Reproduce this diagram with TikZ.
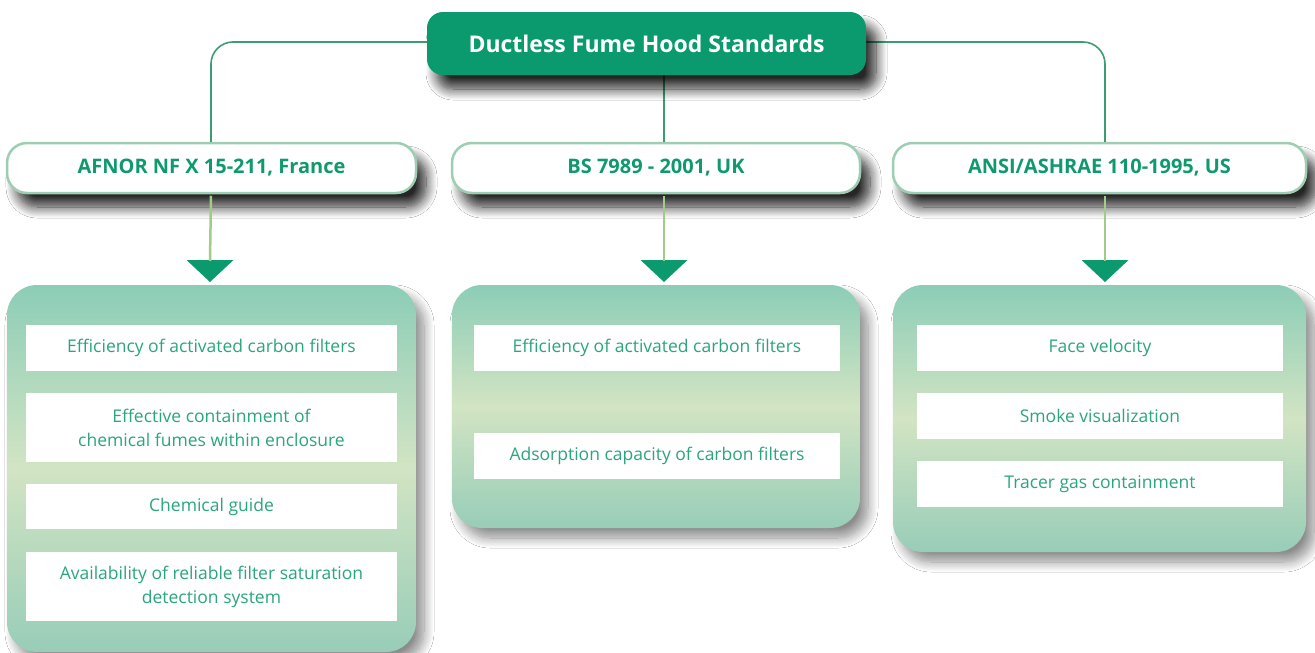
\documentclass[tikz,border=0pt]{standalone}
\usepackage{fontspec}
\setmainfont{Open Sans}
\usetikzlibrary{shadows.blur}
\definecolor{dgreen}{HTML}{0B9A6D}
\definecolor{txtgreen}{HTML}{0E9A6C}
\definecolor{itemgreen}{HTML}{2AA67C}
\definecolor{bordergreen}{HTML}{9DCDB3}
\definecolor{linegreen}{HTML}{3A9E72}
\definecolor{lightline}{HTML}{A2CB87}
\definecolor{ptop}{HTML}{8CCDB7}
\definecolor{pmid}{HTML}{D2E4C3}
\definecolor{pbot}{HTML}{98CDB8}
\tikzset{
  titlebox/.style={fill=dgreen, rounded corners=16pt, inner sep=0pt, text=white,
    font=\fontsize{23}{26}\selectfont\bfseries,
    blur shadow={shadow xshift=10pt, shadow yshift=-14pt, shadow blur radius=11pt, shadow blur steps=12, shadow opacity=85}},
  stdbox/.style={fill=white, draw=bordergreen, line width=2.5pt, rounded corners=20pt, inner sep=0pt,
    text=txtgreen, font=\fontsize{20}{24}\selectfont\bfseries,
    blur shadow={shadow xshift=10pt, shadow yshift=-14pt, shadow blur radius=11pt, shadow blur steps=12, shadow opacity=85}},
  panel/.style={top color=ptop, bottom color=pbot, middle color=pmid, rounded corners=30pt, inner sep=0pt,
    blur shadow={shadow xshift=8pt, shadow yshift=-10pt, shadow blur radius=10pt, shadow blur steps=12, shadow opacity=45}},
  item/.style={fill=white, inner sep=0pt, text=itemgreen, align=center,
    font=\fontsize{17.5}{24}\selectfont},
  topline/.style={draw=linegreen, line width=1.6pt, rounded corners=22pt},
  downline/.style={draw=lightline, line width=2.5pt},
  arrowtri/.style={fill=dgreen}
}
\begin{document}
\begin{tikzpicture}[x=1pt,y=-1pt]
\useasboundingbox (0,0) rectangle (1315,653);
\fill[white] (0,0) rectangle (1315,653);

% level 2 boxes
\node[stdbox, minimum width=409pt, minimum height=50pt] (afnor) at (211.5,168) {AFNOR NF X 15-211, France};
\node[stdbox, minimum width=408pt, minimum height=50pt] (bs) at (656,168) {BS 7989 - 2001, UK};
\node[stdbox, minimum width=413pt, minimum height=50pt] (ansi) at (1099.5,168) {ANSI/ASHRAE 110-1995, US};

% connectors from title
\coordinate (tl) at (427,42);
\coordinate (tr) at (866,42);
\draw[topline] (tl) -| ([xshift=-0.5pt]afnor.north);
\draw[topline] (tr) -| ([xshift=5.5pt]ansi.north);
\coordinate (tm) at (664,74);
\draw[topline] (tm) -- ([xshift=8pt]bs.north);

% title
\node[titlebox, minimum width=439pt, minimum height=63pt] (title) at (646.5,43.5) {Ductless Fume Hood Standards};

% panels
\node[panel, minimum width=409pt, minimum height=367pt] (pl) at (211.5,468.5) {};
\node[panel, minimum width=408pt, minimum height=243pt] (pm) at (656,406.5) {};
\node[panel, minimum width=413pt, minimum height=267pt] (pr) at (1099.5,418.5) {};

% triangles
\coordinate (ta) at (210,260);
\coordinate (tb) at (664,260);
\coordinate (tc) at (1105,260);
\foreach \c in {ta,tb,tc}{
  \fill[arrowtri] ([xshift=-23.5pt]\c) -- ([xshift=23.5pt]\c) -- ([yshift=-22pt]\c) -- cycle;
}
\draw[downline] ([xshift=-0.5pt,yshift=-1.5pt]afnor.south) -- ([yshift=-1pt]ta);
\draw[downline] ([xshift=8pt,yshift=-1.5pt]bs.south) -- ([yshift=-1pt]tb);
\draw[downline] ([xshift=5.5pt,yshift=-1.5pt]ansi.south) -- ([yshift=-1pt]tc);

% items left
\node[item, minimum width=371pt, minimum height=46pt] (l1) at (211.5,348) {Efficiency of activated carbon filters};
\node[item, minimum width=371pt, minimum height=69pt] (l2) at (211.5,427.5) {Effective containment of\\chemical fumes within enclosure};
\node[item, minimum width=371pt, minimum height=45pt] (l3) at (211.5,506.5) {Chemical guide};
\node[item, minimum width=371pt, minimum height=69pt] (l4) at (211.5,586.5) {Availability of reliable filter saturation\\detection system};
% items middle
\node[item, minimum width=366pt, minimum height=46pt] (m1) at (657,348) {Efficiency of activated carbon filters};
\node[item, minimum width=366pt, minimum height=46pt] (m2) at (657,456) {Adsorption capacity of carbon filters};
% items right
\node[item, minimum width=366pt, minimum height=46pt] (r1) at (1100,348) {Face velocity};
\node[item, minimum width=366pt, minimum height=46pt] (r2) at (1100,416) {Smoke visualization};
\node[item, minimum width=366pt, minimum height=46pt] (r3) at (1100,484) {Tracer gas containment};
\end{tikzpicture}
\end{document}
